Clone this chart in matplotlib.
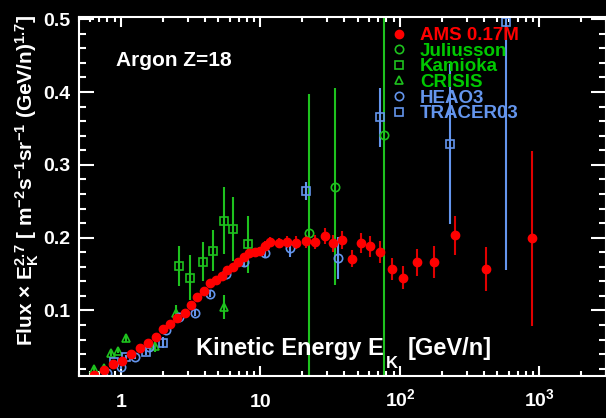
"""Argon flux x E^2.7 versus kinetic energy, AMS compared with older data."""

import matplotlib

matplotlib.use("Agg")
import matplotlib.pyplot as plt
from matplotlib.lines import Line2D
from matplotlib.ticker import MultipleLocator, LogLocator, NullFormatter

plt.rcParams["font.family"] = ["Liberation Sans", "DejaVu Sans"]
plt.rcParams["font.weight"] = "bold"
plt.rcParams["mathtext.fontset"] = "custom"
plt.rcParams["mathtext.bf"] = "Liberation Sans:bold"
plt.rcParams["mathtext.rm"] = "Liberation Sans:bold"
plt.rcParams["mathtext.default"] = "bf"

RED = "#ff0000"
RED_BAR = "#e00000"
GREEN = "#1ec21e"
GREEN_TEXT = "#00c800"
BLUE = "#6495ed"

# AMS 0.17M
ams_e = [0.636, 0.751, 0.882, 1.018, 1.18, 1.36, 1.56, 1.78, 2.01, 2.25, 2.54, 2.86,
         3.19, 3.53, 3.93, 4.35, 4.79, 5.30, 5.76, 6.31, 6.95, 7.58, 8.29, 9.07, 9.9,
         10.76, 11.7, 13.5, 15.5, 18.0, 21.2, 24.7, 28.8, 33.3, 38.7, 45.0, 52.5, 61.4,
         72.5, 87.2, 106, 133, 176, 249, 414, 880]
ams_f = [0.012, 0.0176, 0.026, 0.031, 0.040, 0.048, 0.056, 0.064, 0.074, 0.081, 0.090,
         0.097, 0.107, 0.118, 0.127, 0.138, 0.142, 0.147, 0.156, 0.159, 0.167, 0.173,
         0.179, 0.180, 0.181, 0.188, 0.194, 0.193, 0.194, 0.193, 0.195, 0.194, 0.202,
         0.192, 0.197, 0.171, 0.193, 0.188, 0.180, 0.157, 0.145, 0.166, 0.167, 0.203,
         0.157, 0.199]
ams_err = [0.003, 0.003, 0.003, 0.003, 0.003, 0.003, 0.003, 0.003, 0.003, 0.003, 0.003,
           0.003, 0.004, 0.004, 0.004, 0.004, 0.004, 0.004, 0.005, 0.005, 0.005, 0.005,
           0.006, 0.006, 0.006, 0.007, 0.007, 0.007, 0.008, 0.009, 0.009, 0.009, 0.011,
           0.012, 0.012, 0.012, 0.014, 0.014, 0.015, 0.015, 0.016, 0.019, 0.022, 0.027,
           0.030, 0.120]

# Juliusson
jul_e = [22.3, 34.4, 76.3]
jul_f = [0.207, 0.270, 0.341]
jul_lo = [0.25, 0.135, 0.35]
jul_hi = [0.19, 0.135, 0.20]

# Kamioka
kam_e = [2.60, 3.12, 3.90, 4.6, 5.49, 6.31, 8.2]
kam_f = [0.161, 0.145, 0.167, 0.182, 0.223, 0.212, 0.191]
kam_err = [0.027, 0.031, 0.027, 0.028, 0.046, 0.044, 0.039]

# CRISIS
cri_e = [0.643, 0.75, 0.85, 0.95, 1.09, 1.74, 2.49, 5.49]
cri_f = [0.019, 0.021, 0.041, 0.045, 0.062, 0.051, 0.096, 0.105]
cri_err = [0.003, 0.003, 0.004, 0.004, 0.005, 0.008, 0.011, 0.0165]

# HEAO3
hea_e = [0.80, 1.0, 1.26, 1.60, 2.10, 2.6, 3.37, 4.35, 5.70, 7.58, 10.8, 16.4, 35.8]
hea_f = [0.0135, 0.022, 0.036, 0.050, 0.073, 0.091, 0.097, 0.123, 0.150, 0.166, 0.179,
         0.186, 0.1725]
hea_err = [0.002, 0.002, 0.003, 0.003, 0.003, 0.003, 0.004, 0.004, 0.004, 0.005, 0.006,
           0.0125, 0.029]

# TRACER03
tra_e = [0.896, 1.09, 1.50, 2.01, 21.3, 71.4, 229, 576]
tra_f = [0.029, 0.036, 0.043, 0.056, 0.264, 0.365, 0.329, 0.496]
tra_err = [0.003, 0.003, 0.004, 0.007, 0.012, 0.040, 0.110, 0.340]

legend_labels = ["AMS 0.17M", "Juliusson", "Kamioka", "CRISIS", "HEAO3", "TRACER03"]
legend_colors = [RED, GREEN_TEXT, GREEN_TEXT, GREEN_TEXT, BLUE, BLUE]

W, H = 606, 418
fig = plt.figure(figsize=(W / 100, H / 100), dpi=100, facecolor="black")
ax = fig.add_axes([79 / W, 1 - 376 / H, 527 / W, 359 / H], facecolor="black")

common = dict(capsize=0, ls="none", elinewidth=1.5)
ax.errorbar(jul_e, jul_f, yerr=[jul_lo, jul_hi], fmt="o", ms=6, mfc="none", mec=GREEN,
            mew=1.2, ecolor=GREEN, **common)
ax.errorbar(kam_e, kam_f, yerr=kam_err, fmt="s", ms=6, mfc="none", mec=GREEN,
            mew=1.2, ecolor=GREEN, **common)
ax.errorbar(cri_e, cri_f, yerr=cri_err, fmt="^", ms=6, mfc="none", mec=GREEN,
            mew=1.2, ecolor=GREEN, **common)
ax.errorbar(hea_e, hea_f, yerr=hea_err, fmt="o", ms=6, mfc="none", mec=BLUE,
            mew=1.2, ecolor=BLUE, **common)
ax.errorbar(tra_e, tra_f, yerr=tra_err, fmt="s", ms=6, mfc="none", mec=BLUE,
            mew=1.2, ecolor=BLUE, **common)
ax.errorbar(ams_e, ams_f, yerr=ams_err, fmt="o", ms=6, mfc=RED, mec=RED,
            ecolor=RED_BAR, **common)

ax.set_xscale("log")
ax.set_xlim(0.5, 3000)
ax.set_ylim(0.01, 0.503)

for side in ax.spines.values():
    side.set_color("white")
    side.set_linewidth(1.5)

ax.yaxis.set_minor_locator(MultipleLocator(0.02))
ax.set_yticks([0.1, 0.2, 0.3, 0.4, 0.5])
ax.set_yticklabels(["0.1", "0.2", "0.3", "0.4", "0.5"])
ax.xaxis.set_minor_locator(LogLocator(base=10, subs=range(2, 10), numticks=20))
ax.xaxis.set_minor_formatter(NullFormatter())
ax.set_xticks([1, 10, 100, 1000])
ax.set_xticklabels(["1", "10", r"$10^{2}$", r"$10^{3}$"], va="baseline")

ax.tick_params(axis="both", which="both", direction="in", colors="white",
               top=True, right=True, width=1.5, labelsize=14)
ax.tick_params(axis="y", which="major", length=10.5, pad=6)
ax.tick_params(axis="y", which="minor", length=5)
ax.tick_params(axis="x", which="major", length=7.5, pad=22)
ax.tick_params(axis="x", which="minor", length=3.5)

fig.text(27 / W, 1 - 180 / H,
         r"Flux × E$_{K}^{2.7}$ [ m$^{-2}$s$^{-1}$sr$^{-1}$ (GeV/n)$^{1.7}$]",
         rotation=90, ha="center", va="center", color="white", fontsize=15,
         fontweight="bold")

# x-axis title written inside the frame, with a deep subscript K
xt = fig.text(196 / W, 1 - 355 / H, "Kinetic Energy E", ha="left", va="baseline",
              color="white", fontsize=17, fontweight="bold")
ax.annotate("K", xy=(1, 0), xycoords=xt, xytext=(1.5, -8), textcoords="offset points",
            ha="left", va="bottom", color="white", fontsize=12, fontweight="bold",
            annotation_clip=False)
ax.annotate("[GeV/n]", xy=(1, 0), xycoords=xt, xytext=(17, 0),
            textcoords="offset points", ha="left", va="bottom", color="white",
            fontsize=17, fontweight="bold", annotation_clip=False)

fig.text(116 / W, 1 - 60 / H, "Argon Z=18", ha="left", va="center", color="white",
         fontsize=15, fontweight="bold")

handles = [
    Line2D([], [], ls="none", marker="o", ms=6, mfc=RED, mec=RED),
    Line2D([], [], ls="none", marker="o", ms=6, mfc="none", mec=GREEN, mew=1.2),
    Line2D([], [], ls="none", marker="s", ms=6, mfc="none", mec=GREEN, mew=1.2),
    Line2D([], [], ls="none", marker="^", ms=6, mfc="none", mec=GREEN, mew=1.2),
    Line2D([], [], ls="none", marker="o", ms=6, mfc="none", mec=BLUE, mew=1.2),
    Line2D([], [], ls="none", marker="s", ms=6, mfc="none", mec=BLUE, mew=1.2),
]
leg = ax.legend(handles, legend_labels, loc="upper left",
                bbox_to_anchor=(390 / W, 1 - 27 / H), bbox_transform=fig.transFigure,
                frameon=False, borderpad=0, borderaxespad=0, handlelength=1.0,
                handletextpad=0.6, labelspacing=-0.08,
                prop={"size": 13.5, "weight": "bold"})
for text, colour in zip(leg.get_texts(), legend_colors):
    text.set_color(colour)

fig.savefig("out.png", dpi=100, facecolor="black")
